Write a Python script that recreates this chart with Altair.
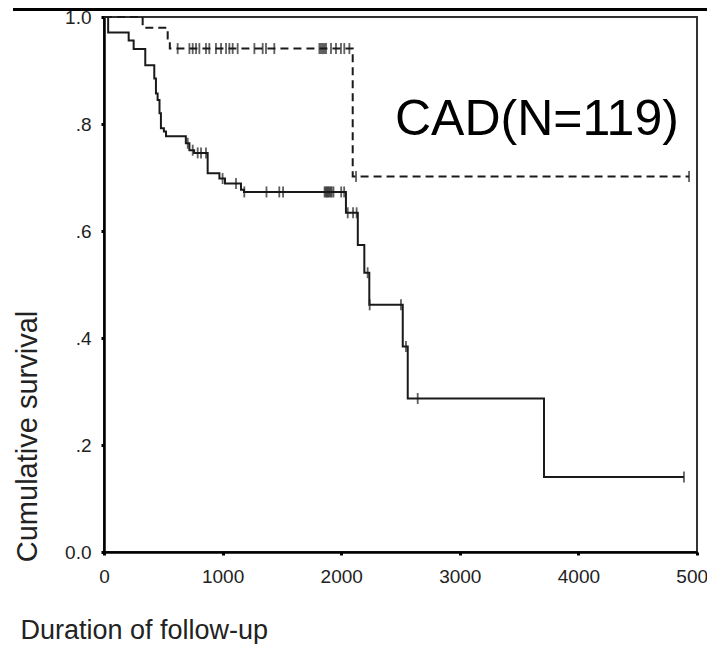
import altair as alt
import pandas as pd

# ---- data ----
# solid curve (lower): event times and survival after each step
solid_t = [0, 35, 208, 250, 348, 424, 438, 452, 468, 480, 505, 523, 690, 720, 760,
           874, 973, 1020, 1155, 1180, 2040, 2140, 2195, 2237, 2519, 2561, 3710, 4890]
solid_s = [1.0, 0.971, 0.956, 0.940, 0.910, 0.885, 0.857, 0.845, 0.820, 0.792, 0.786,
           0.777, 0.764, 0.751, 0.746, 0.708, 0.698, 0.689, 0.677, 0.673, 0.634, 0.574,
           0.522, 0.462, 0.384, 0.287, 0.140, 0.140]
solid_censor = [706, 748, 790, 818, 860, 1000, 1113, 1183, 1370, 1478, 1510, 1860, 1870,
                1880, 1890, 1900, 1910, 1920, 1935, 2000, 2025, 2055, 2100, 2130, 2223,
                2240, 2504, 2546, 2645, 4890]

# dashed curve (upper)
dash_t = [0, 326, 537, 555, 2097, 4933]
dash_s = [1.0, 0.980, 0.960, 0.941, 0.702, 0.702]
dash_censor = [621, 720, 748, 776, 804, 860, 888, 944, 987, 1029, 1057, 1085, 1127, 1268,
               1338, 1366, 1436, 1816, 1830, 1845, 1858, 1872, 1914, 1956, 1998, 2026,
               2069, 2125, 4933]

x_ticks = [0, 1000, 2000, 3000, 4000, 5000]
y_ticks = [0.0, 0.2, 0.4, 0.6, 0.8, 1.0]
y_tick_labels = ["0.0", ".2", ".4", ".6", ".8", "1.0"]
annotation = "CAD(N=119)"
x_title = "Duration of follow-up"
y_title = "Cumulative survival"


def value_at(ts, ss, t):
    v = ss[0]
    for ti, si in zip(ts, ss):
        if ti <= t:
            v = si
    return v


curve_df = pd.DataFrame(
    [{"t": t, "s": s, "g": "solid"} for t, s in zip(solid_t, solid_s)]
    + [{"t": t, "s": s, "g": "dashed"} for t, s in zip(dash_t, dash_s)]
)
cens_df = pd.DataFrame(
    [{"t": t, "s": value_at(solid_t, solid_s, t)} for t in solid_censor]
    + [{"t": t, "s": value_at(dash_t, dash_s, t)} for t in dash_censor]
)
ann_df = pd.DataFrame({"t": [3650], "s": [0.779], "label": [annotation]})

label_expr = " : ".join(
    f"datum.value == {v} ? '{l}'" for v, l in zip(y_ticks, y_tick_labels)
) + " : ''"

FONT = "Liberation Sans"

xscale = alt.Scale(domain=[0, 5000], nice=False, zero=True)
yscale = alt.Scale(domain=[0, 1], nice=False)

x_enc = alt.X(
    "t:Q", scale=xscale,
    axis=alt.Axis(values=x_ticks, title=x_title, format="d", grid=False,
                  domainColor="#000", domainWidth=2.5, tickColor="#000", tickWidth=3,
                  tickSize=3, labelFont=FONT, labelFontSize=19, labelColor="#222",
                  labelPadding=12, labelFlush=False, titleFont=FONT, titleFontSize=27,
                  titleFontWeight="normal", titleColor="#222", titleAlign="left",
                  titleAnchor="start", titleX=-84, titleY=86,
                  titleBaseline="alphabetic", labelOverlap=False),
)
y_enc = alt.Y(
    "s:Q", scale=yscale,
    axis=alt.Axis(values=y_ticks, labelExpr=label_expr, title=y_title, grid=False,
                  domainColor="#000", domainWidth=2.5, tickColor="#000", tickWidth=3,
                  tickSize=3, labelFont=FONT, labelFontSize=19, labelColor="#222",
                  labelPadding=10, labelFlush=False, titleFont=FONT, titleFontSize=29,
                  titleFontWeight="normal", titleColor="#222", titleAngle=270,
                  titleAlign="center", titleX=-68, titleY=419,
                  titleBaseline="alphabetic", labelOverlap=False),
)

solid_line = alt.Chart(curve_df).transform_filter("datum.g == 'solid'").mark_line(
    interpolate="step-after", color="#1a1a1a", strokeWidth=2
).encode(x=x_enc, y=y_enc)

dash_line = alt.Chart(curve_df).transform_filter("datum.g == 'dashed'").mark_line(
    interpolate="step-after", color="#1a1a1a", strokeWidth=2, strokeDash=[8, 5]
).encode(x="t:Q", y="s:Q")

censors = alt.Chart(cens_df).mark_tick(
    orient="vertical", size=11, thickness=1.8, color="#1a1a1a"
).encode(x="t:Q", y="s:Q")

ann = alt.Chart(ann_df).mark_text(
    font=FONT, fontSize=50, color="#000", align="center", baseline="alphabetic"
).encode(x="t:Q", y="s:Q", text="label:N")

top_rule = alt.Chart(ann_df).mark_rule(color="#000", strokeWidth=3).encode(
    x=alt.value(-91), x2=alt.value(613), y=alt.value(-7.5)
)

chart = (
    alt.layer(solid_line, dash_line, censors, ann, top_rule)
    .properties(
        width=593, height=535,
        padding={"left": 96, "top": 9, "right": 10, "bottom": 92},
        autosize=alt.AutoSizeParams(type="none"),
        background="white",
    )
    .configure_view(stroke="#333", strokeWidth=2)
)

chart.save("out.html", embed_options={"renderer": "svg", "actions": False})
